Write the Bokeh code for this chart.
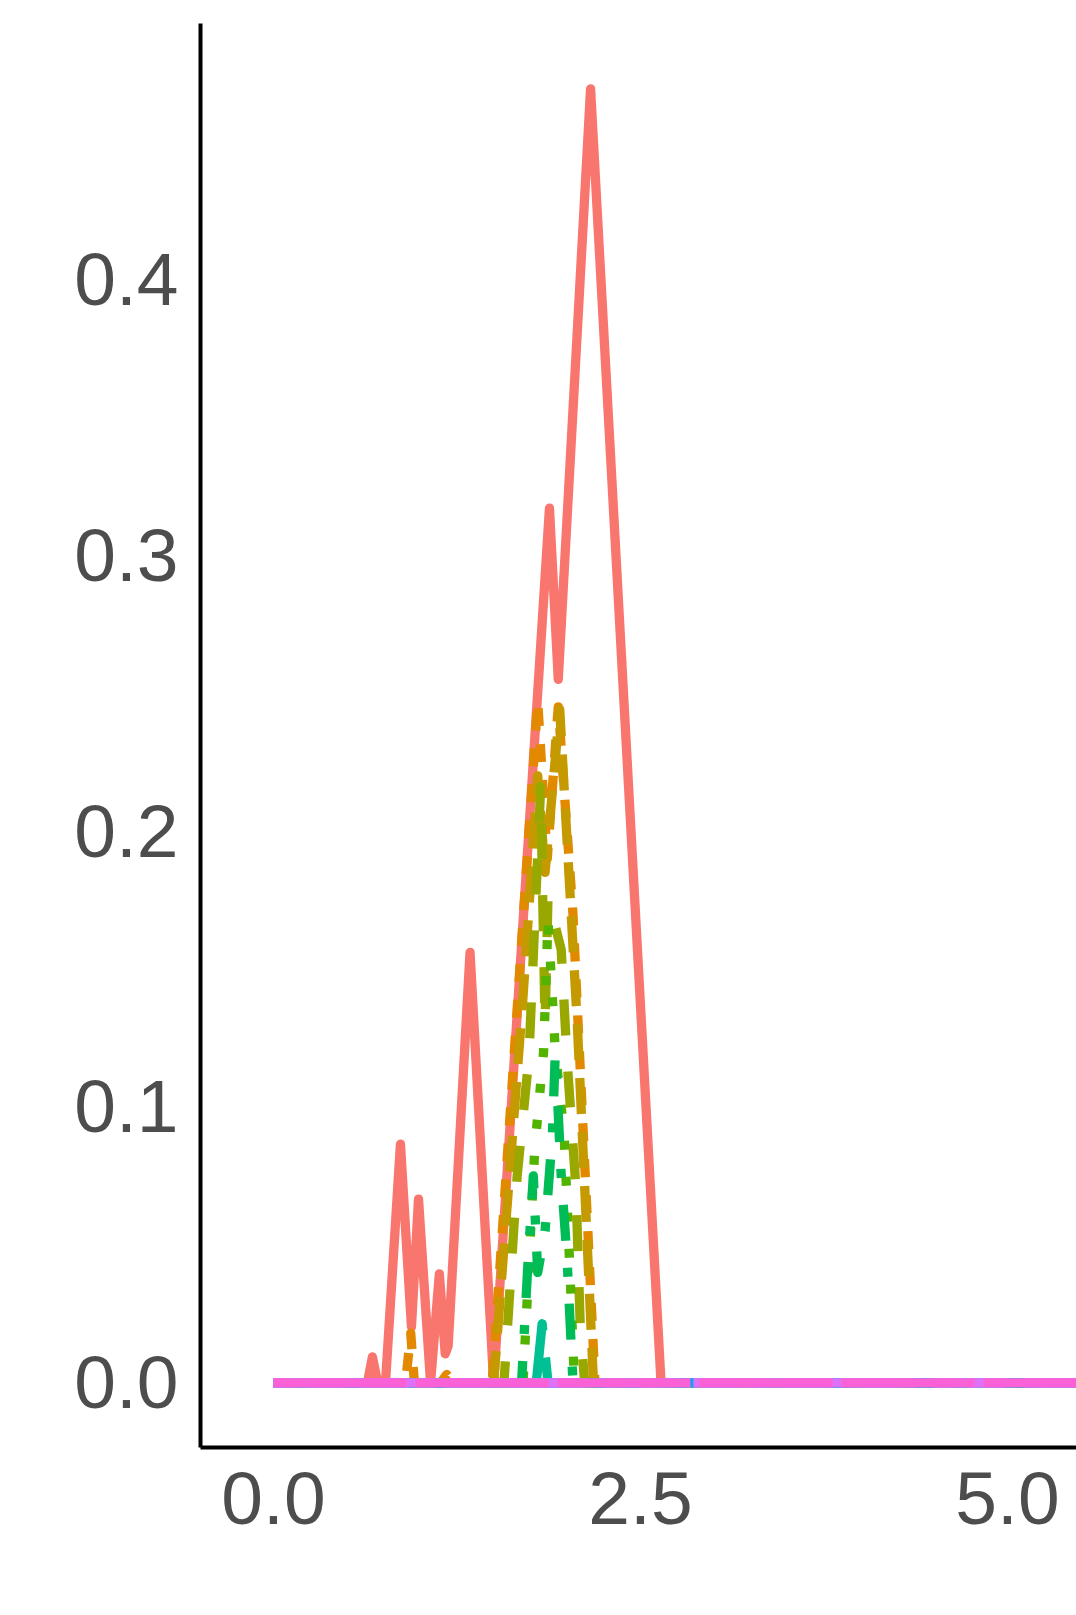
from bokeh.plotting import figure
from bokeh.models import Range1d, FixedTicker, PrintfTickFormatter
from bokeh.embed import file_html
from bokeh.resources import INLINE

# ---- data ----
x_ticks = [0.0, 2.5, 5.0, 7.5, 10.0]
y_ticks = [0.0, 0.1, 0.2, 0.3, 0.4]

x_g1 = [0.0, 0.64, 0.674, 0.71, 0.763, 0.865, 0.94, 0.988, 1.07, 1.13, 1.17, 1.19, 1.339, 1.50, 1.88, 1.94, 2.16, 2.64, 10.0]
y_g1 = [0.0, 0.0, 0.0094, 0.0, 0.0, 0.0865, 0.0203, 0.0666, 0.0, 0.0395, 0.0105, 0.0134, 0.156, 0.0, 0.317, 0.255, 0.469, 0.0, 0.0]

x_g2 = [0.0, 0.90, 0.935, 0.96, 1.14, 1.18, 1.22, 1.49, 1.80, 1.865, 1.94, 2.04, 2.19, 10.0]
y_g2 = [0.0, 0.0, 0.018, 0.0, 0.0, 0.003, 0.0, 0.0, 0.247, 0.19, 0.245, 0.17, 0.0, 0.0]

x_g3 = [0.0, 1.50, 1.70, 1.80, 1.85, 1.95, 2.07, 2.18, 10.0]
y_g3 = [0.0, 0.0, 0.14, 0.22, 0.185, 0.244, 0.13, 0.0, 0.0]

x_g4 = [0.0, 1.57, 1.66, 1.74, 1.82, 1.85, 1.87, 1.96, 2.00, 2.06, 2.09, 2.12, 10.0]
y_g4 = [0.0, 0.0, 0.075, 0.118, 0.216, 0.13, 0.176, 0.157, 0.117, 0.071, 0.02, 0.0, 0.0]

x_g5 = [0.0, 1.70, 1.78, 1.84, 1.87, 1.92, 1.98, 2.02, 2.05, 10.0]
y_g5 = [0.0, 0.0, 0.085, 0.12, 0.168, 0.12, 0.09, 0.04, 0.0, 0.0]

x_g6 = [0.0, 1.69, 1.73, 1.77, 1.80, 1.85, 1.90, 1.92, 1.96, 2.00, 2.04, 10.0]
y_g6 = [0.0, 0.0, 0.04, 0.075, 0.04, 0.055, 0.09, 0.12, 0.075, 0.045, 0.0, 0.0]

x_g7 = [0.0, 1.79, 1.83, 1.87, 10.0]
y_g7 = [0.0, 0.0, 0.0214, 0.0, 0.0]

x_flat = [0.0, 10.0]
y_flat = [0.0, 0.0]

colors = ["#F8766D", "#E38900", "#C49A00", "#99A800", "#53B400", "#00BC56", "#00C094",
          "#00BFC4", "#00B6EB", "#06A4FF", "#A58AFF", "#DF70F8", "#FB61D7"]
dashes = ["solid", "18 18", "36 18", "36 36", "9 27", "9 27 36 27", "62 27",
          "18 18 53 18", "9 18 18 18 27 18 36 18", "133 18 71 18", "133 36 36 36 71 36 36 36",
          "18 18 36 18 71 18 133 18", "133 9"]

series_x = [x_g1, x_g2, x_g3, x_g4, x_g5, x_g6, x_g7, x_flat, x_flat, x_flat, x_flat, x_flat, x_flat]
series_y = [y_g1, y_g2, y_g3, y_g4, y_g5, y_g6, y_g7, y_flat, y_flat, y_flat, y_flat, y_flat, y_flat]

p = figure(width=1076, height=1612,
           x_range=Range1d(-0.497, 5.47), y_range=Range1d(-0.02345, 0.4927),
           output_backend="svg", toolbar_location=None,
           min_border_left=200, min_border_right=0, min_border_top=23, min_border_bottom=165)
p.outline_line_color = None
p.xgrid.visible = False
p.ygrid.visible = False
p.background_fill_color = "white"
p.border_fill_color = "white"

for xs, ys, c, d in zip(series_x, series_y, colors, dashes):
    p.line(xs, ys, line_color=c, line_width=9.3, line_dash=d,
           line_join="round", line_cap="butt")

for ax in (p.xaxis, p.yaxis):
    ax.axis_line_color = "black"
    ax.axis_line_width = 4
    ax.major_tick_line_color = None
    ax.minor_tick_line_color = None
    ax.major_label_text_font = "Liberation Sans"
    ax.major_label_text_font_size = "75px"
    ax.major_label_text_color = "#4D4D4D"
    ax.formatter = PrintfTickFormatter(format="%.1f")

p.xaxis.ticker = FixedTicker(ticks=x_ticks)
p.yaxis.ticker = FixedTicker(ticks=y_ticks)
p.xaxis.major_label_standoff = 19
p.yaxis.major_label_standoff = 16

open("out.html", "w").write(file_html(p, INLINE))
